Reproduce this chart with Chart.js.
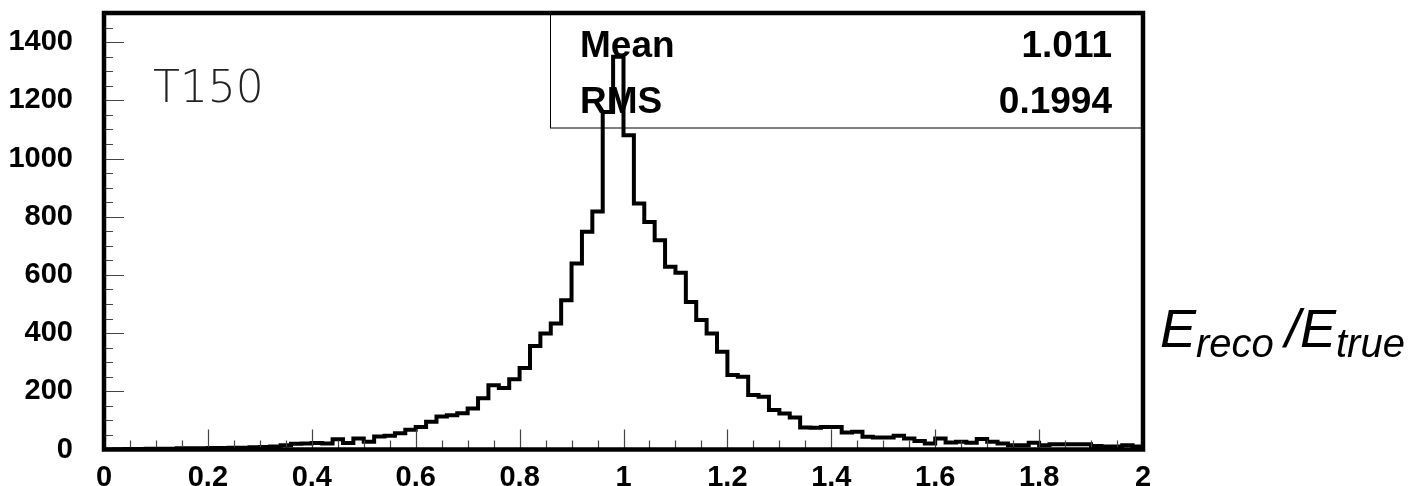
<!DOCTYPE html>
<html>
<head>
<meta charset="utf-8">
<script src="https://cdn.jsdelivr.net/npm/chart.js@4.4.1/dist/chart.umd.min.js"></script>
<style>
  html, body { margin: 0; padding: 0; background: #fff; }
  canvas { display: block; }
</style>
</head>
<body>
<canvas id="hist" width="1416" height="486"></canvas>
<script>
// histogram E_reco/E_true, 100 bins from 0 to 2
const binLow = 0;
const binWidth = 0.02;
const counts = [
  0, 1, 2, 2, 3, 3, 3, 4, 4, 4,
  5, 5, 6, 6, 8, 9, 10, 15, 20, 21,
  22, 21, 35, 22, 38, 27, 45, 47, 56, 68,
  77, 95, 113, 118, 125, 141, 176, 221, 211, 241,
  280, 356, 399, 433, 513, 639, 748, 818, 1160, 1350,
  1080, 845, 782, 719, 628, 607, 507, 445, 399, 336,
  256, 250, 187, 181, 136, 124, 110, 76, 75, 77,
  77, 58, 61, 44, 41, 41, 47, 38, 29, 21,
  38, 24, 27, 23, 36, 27, 21, 15, 15, 23,
  15, 18, 18, 18, 18, 12, 10, 10, 15, 10
];
const xTicks = [0, 0.2, 0.4, 0.6, 0.8, 1, 1.2, 1.4, 1.6, 1.8, 2];
const yTicks = [0, 200, 400, 600, 800, 1000, 1200, 1400];
const xMinorStep = 0.05;
const yMinorStep = 50;
const statNames = ['Mean', 'RMS'];
const statValues = ['1.011', '0.1994'];
const histTitle = 'T150';

// step outline: left edge of every bin, plus the right edge of the last one
const points = counts.map((c, i) => ({ x: binLow + i * binWidth, y: c }));
points.push({ x: binLow + counts.length * binWidth, y: counts[counts.length - 1] });

const labelFont = { family: '"Liberation Sans", Arial, sans-serif', size: 29, weight: 'bold' };

const rootStyle = {
  id: 'rootStyle',
  beforeDatasetsDraw(chart) {
    const { ctx, chartArea: a } = chart;
    ctx.save();
    // stats box
    const boxL = 550, boxB = 128;
    ctx.strokeStyle = '#000';
    ctx.lineWidth = 1;
    ctx.strokeRect(boxL + 0.5, a.top, a.right - boxL, boxB - a.top);
    ctx.fillStyle = '#000';
    ctx.font = 'bold 37px "Liberation Sans", Arial, sans-serif';
    ctx.textBaseline = 'alphabetic';
    const rows = [57, 113];
    statNames.forEach((n, i) => {
      ctx.textAlign = 'left';
      ctx.fillText(n, 580, rows[i]);
      ctx.textAlign = 'right';
      ctx.fillText(statValues[i], 1112, rows[i]);
    });
    // title
    ctx.font = '200 44px "DejaVu Sans", sans-serif';
    ctx.fillStyle = '#222';
    ctx.textAlign = 'left';
    ctx.fillText(histTitle, 153, 102);
    ctx.restore();
  },
  afterDatasetsDraw(chart) {
    const { ctx, chartArea: a, scales } = chart;
    const xs = scales.x, ys = scales.y;
    ctx.save();
    ctx.strokeStyle = '#444';
    ctx.lineWidth = 1.2;
    ctx.beginPath();
    for (let v = ys.min; v <= ys.max + 1e-9; v += yMinorStep) {
      const py = Math.round(ys.getPixelForValue(v)) + 0.5;
      const len = (Math.round(v) % 200 === 0) ? 20 : 9;
      ctx.moveTo(a.left, py);
      ctx.lineTo(a.left + len, py);
    }
    for (let k = 0; k * xMinorStep <= xs.max + 1e-9; k++) {
      const v = k * xMinorStep;
      const px = Math.round(xs.getPixelForValue(v)) + 0.5;
      const len = (k % 4 === 0) ? 20 : 9;
      ctx.moveTo(px, a.bottom);
      ctx.lineTo(px, a.bottom - len);
    }
    ctx.stroke();
    // frame
    ctx.strokeStyle = '#000';
    ctx.lineWidth = 4.5;
    ctx.strokeRect(a.left, a.top, a.right - a.left, a.bottom - a.top);
    ctx.restore();
  },
  afterDraw(chart) {
    const { ctx } = chart;
    ctx.save();
    ctx.fillStyle = '#000';
    ctx.textAlign = 'left';
    ctx.textBaseline = 'alphabetic';
    const big = 'italic 54px "Liberation Sans", Arial, sans-serif';
    const sub = 'italic 40px "Liberation Sans", Arial, sans-serif';
    let x = 1160;
    const parts = [['E', big, 347], ['reco', sub, 357], [' ', sub, 357], ['/', big, 347], ['E', big, 347], ['true', sub, 357]];
    parts.forEach(([t, f, y]) => {
      ctx.font = f;
      ctx.fillText(t, x, y);
      x += ctx.measureText(t).width;
    });
    ctx.restore();
  }
};

new Chart(document.getElementById('hist'), {
  type: 'line',
  data: {
    datasets: [{
      data: points,
      stepped: 'before',
      borderColor: '#000',
      borderWidth: 4,
      pointRadius: 0,
      fill: false,
      tension: 0
    }]
  },
  options: {
    responsive: false,
    animation: false,
    layout: { padding: { top: 13, right: 273, left: 0, bottom: 0 } },
    plugins: {
      legend: { display: false },
      tooltip: { enabled: false }
    },
    scales: {
      x: {
        type: 'linear',
        min: 0,
        max: 2,
        border: { display: false },
        grid: { display: false, drawTicks: false },
        afterBuildTicks: s => { s.ticks = xTicks.map(v => ({ value: v })); },
        afterFit: s => { s.height = 36.5; s.paddingLeft = 0; s.paddingRight = 0; },
        ticks: {
          color: '#000',
          font: labelFont,
          padding: 11,
          maxRotation: 0,
          autoSkip: false,
          callback: v => String(v)
        }
      },
      y: {
        min: 0,
        max: 1500,
        border: { display: false },
        grid: { display: false, drawTicks: false },
        afterBuildTicks: s => { s.ticks = yTicks.map(v => ({ value: v })); },
        afterFit: s => { s.width = 104; s.paddingTop = 0; s.paddingBottom = 0; },
        ticks: {
          color: '#000',
          font: labelFont,
          padding: 31,
          autoSkip: false,
          callback: v => String(v)
        }
      }
    }
  },
  plugins: [rootStyle]
});
</script>
</body>
</html>
